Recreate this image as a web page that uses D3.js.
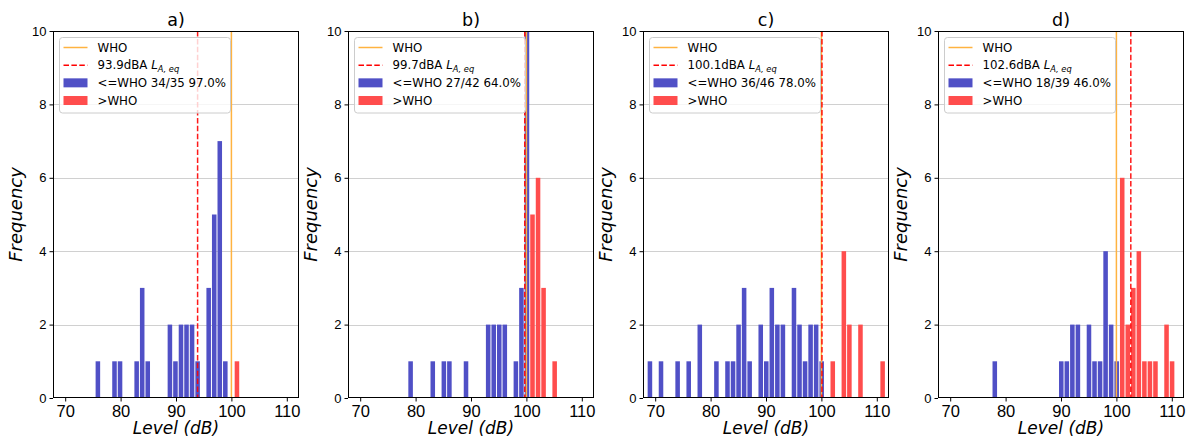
<!DOCTYPE html>
<html>
<head>
<meta charset="utf-8">
<script src="https://cdn.jsdelivr.net/npm/d3@7"></script>
<style>
  body { margin: 0; background: #fff; }
  svg { display: block; }
</style>
</head>
<body>
<script>
// panel titles and reference levels
const titles = ["a)", "b)", "c)", "d)"];
const meanLevels = [93.9, 99.7, 100.1, 102.6];
const whoLevel = 100;
const xTicks = [70, 80, 90, 100, 110];
const yTicks = [0, 2, 4, 6, 8, 10];

// histogram bins: left edge (dB) and count, 1 dB wide
const aBelowEdges = [75.4, 78.4, 79.4, 82.4, 83.4, 84.4, 88.4, 89.4, 90.4, 91.4, 92.4, 93.4, 95.4, 96.4, 97.4, 98.4];
const aBelowCounts = [1, 1, 1, 1, 3, 1, 2, 1, 2, 2, 2, 1, 3, 5, 7, 1];
const aAboveEdges = [100.5];
const aAboveCounts = [1];

const bBelowEdges = [78.6, 82.6, 84.6, 85.6, 88.6, 92.6, 93.6, 94.6, 95.6, 97.6, 98.6, 99.6];
const bBelowCounts = [1, 1, 1, 1, 1, 2, 2, 2, 2, 1, 3, 10];
const bAboveEdges = [100.6, 101.6, 102.6, 104.6];
const bAboveCounts = [5, 6, 3, 1];

const cBelowEdges = [68.55, 70.55, 73.55, 75.55, 77.55, 80.55, 82.55, 83.55, 84.55, 85.55, 86.55, 88.55, 89.55, 90.55, 91.55, 92.55, 94.55, 95.55, 96.55, 97.55, 98.55, 99.55];
const cBelowCounts = [1, 1, 1, 1, 2, 1, 1, 1, 2, 3, 1, 2, 1, 3, 2, 2, 3, 2, 1, 2, 2, 1];
const cAboveEdges = [101.55, 103.55, 104.55, 106.55, 110.55];
const cAboveCounts = [1, 4, 2, 2, 1];

const dBelowEdges = [77.55, 89.55, 90.55, 91.55, 92.55, 94.55, 95.55, 96.55, 97.55, 98.55, 99.55];
const dBelowCounts = [1, 1, 1, 2, 2, 2, 1, 1, 4, 2, 1];
const dAboveEdges = [100.55, 101.55, 102.55, 103.55, 104.55, 105.55, 106.55, 108.55, 109.55];
const dAboveCounts = [6, 2, 3, 4, 1, 1, 1, 2, 1];

const binWidth = 1;

const zip = (edges, counts) => edges.map((e, i) => ({ x0: e, n: counts[i] }));
const panels = [
  { below: zip(aBelowEdges, aBelowCounts), above: zip(aAboveEdges, aAboveCounts) },
  { below: zip(bBelowEdges, bBelowCounts), above: zip(bAboveEdges, bAboveCounts) },
  { below: zip(cBelowEdges, cBelowCounts), above: zip(cAboveEdges, cAboveCounts) },
  { below: zip(dBelowEdges, dBelowCounts), above: zip(dAboveEdges, dAboveCounts) },
];

const width = 1190, height = 439;
const top0 = 31, left0 = 53, panelW = 246, panelH = 367, panelStep = 295;
const blue = "#5050c6", red = "#ff4d4d", orange = "#ffb340";

const svg = d3
  .select("body")
  .append("svg")
  .attr("width", width)
  .attr("height", height)
  .style("font-family", "'DejaVu Sans', sans-serif");

const x = d3.scaleLinear().domain([67.8, 112.2]).range([0, panelW]);
const y = d3.scaleLinear().domain([0, 10]).range([panelH, 0]);

panels.forEach((p, i) => {
  const g = svg
    .append("g")
    .attr("transform", `translate(${left0 + i * panelStep},${top0})`);

  // grid
  g.append("g")
    .selectAll("line")
    .data(yTicks.filter((t) => t > 0 && t < 10))
    .join("line")
    .attr("x1", 0)
    .attr("x2", panelW)
    .attr("y1", (d) => Math.round(y(d)) + 0.5)
    .attr("y2", (d) => Math.round(y(d)) + 0.5)
    .attr("stroke", "#d0d0d0")
    .attr("stroke-width", 1);

  // bars
  const drawBars = (bins, color) => {
    g.append("g")
      .selectAll("rect")
      .data(bins)
      .join("rect")
      .attr("x", (d) => x(d.x0) + 0.5)
      .attr("width", (d) => x(d.x0 + binWidth) - x(d.x0) - 1)
      .attr("y", (d) => y(d.n))
      .attr("height", (d) => panelH - y(d.n))
      .attr("fill", color);
  };
  drawBars(p.below, blue);
  drawBars(p.above, red);

  // WHO and mean lines
  g.append("line")
    .attr("x1", x(whoLevel))
    .attr("x2", x(whoLevel))
    .attr("y1", 0)
    .attr("y2", panelH)
    .attr("stroke", orange)
    .attr("stroke-width", 1.5);

  g.append("line")
    .attr("x1", x(meanLevels[i]))
    .attr("x2", x(meanLevels[i]))
    .attr("y1", 0)
    .attr("y2", panelH)
    .attr("stroke", "#ff0000")
    .attr("stroke-opacity", 0.9)
    .attr("stroke-width", 1.5)
    .attr("stroke-dasharray", "5.5,2.4");

  // axes
  const xAxis = g
    .append("g")
    .attr("transform", `translate(0,${panelH})`)
    .call(d3.axisBottom(x).tickValues(xTicks).tickSize(3.5).tickPadding(3.5));
  xAxis.select(".domain").remove();
  xAxis.selectAll("text").attr("font-size", "16.5px").attr("fill", "#000");

  const yAxis = g
    .append("g")
    .call(d3.axisLeft(y).tickValues(yTicks).tickSize(3.5).tickPadding(3));
  yAxis.select(".domain").remove();
  yAxis.selectAll("text").attr("font-size", "13px").attr("fill", "#000");

  g.append("rect")
    .attr("x", 0.5)
    .attr("y", 0.5)
    .attr("width", panelW - 1)
    .attr("height", panelH - 1)
    .attr("fill", "none")
    .attr("stroke", "#000")
    .attr("stroke-width", 1);

  // labels
  g.append("text")
    .attr("x", panelW / 2)
    .attr("y", -5)
    .attr("text-anchor", "middle")
    .attr("font-size", "17.5px")
    .text(titles[i]);

  g.append("text")
    .attr("x", panelW / 2)
    .attr("y", panelH + 36)
    .attr("text-anchor", "middle")
    .attr("font-size", "17px")
    .attr("font-style", "italic")
    .text("Level (dB)");

  g.append("text")
    .attr("transform", `translate(-31,${panelH / 2}) rotate(-90)`)
    .attr("text-anchor", "middle")
    .attr("font-size", "18px")
    .attr("font-style", "italic")
    .text("Frequency");

  // legend
  const nBelow = d3.sum(p.below, (d) => d.n);
  const nTotal = nBelow + d3.sum(p.above, (d) => d.n);
  const pct = Math.floor((nBelow / nTotal) * 100).toFixed(1);

  const lg = g.append("g").attr("transform", "translate(6.5,6.5)");
  lg.append("rect")
    .attr("width", 171)
    .attr("height", 75.5)
    .attr("rx", 3)
    .attr("fill", "#fff")
    .attr("fill-opacity", 0.8)
    .attr("stroke", "#cccccc")
    .attr("stroke-width", 1);

  const rowY = (k) => 10 + k * 17.67;
  const hx0 = 4, hx1 = 28, tx = 38;

  lg.append("line")
    .attr("x1", hx0).attr("x2", hx1)
    .attr("y1", rowY(0)).attr("y2", rowY(0))
    .attr("stroke", orange).attr("stroke-width", 1.5);
  lg.append("line")
    .attr("x1", hx0).attr("x2", hx1)
    .attr("y1", rowY(1)).attr("y2", rowY(1))
    .attr("stroke", "#ff0000").attr("stroke-width", 1.5)
    .attr("stroke-dasharray", "5.5,2.4");
  lg.append("rect")
    .attr("x", hx0).attr("y", rowY(2) - 4.5)
    .attr("width", hx1 - hx0).attr("height", 9)
    .attr("fill", blue);
  lg.append("rect")
    .attr("x", hx0).attr("y", rowY(3) - 4.5)
    .attr("width", hx1 - hx0).attr("height", 9)
    .attr("fill", red);

  const legendText = (k) =>
    lg.append("text")
      .attr("x", tx)
      .attr("y", rowY(k))
      .attr("dy", "0.36em")
      .attr("font-size", "11.8px");

  legendText(0).text("WHO");
  const t1 = legendText(1);
  t1.append("tspan").text(`${meanLevels[i].toFixed(1)}dBA `);
  t1.append("tspan").attr("font-style", "italic").text("L");
  t1.append("tspan")
    .attr("font-style", "italic")
    .attr("font-size", "8.3px")
    .attr("dy", "3")
    .text("A, eq");
  legendText(2).text(`<=WHO ${nBelow}/${nTotal} ${pct}%`);
  legendText(3).text(">WHO");
});
</script>
</body>
</html>
